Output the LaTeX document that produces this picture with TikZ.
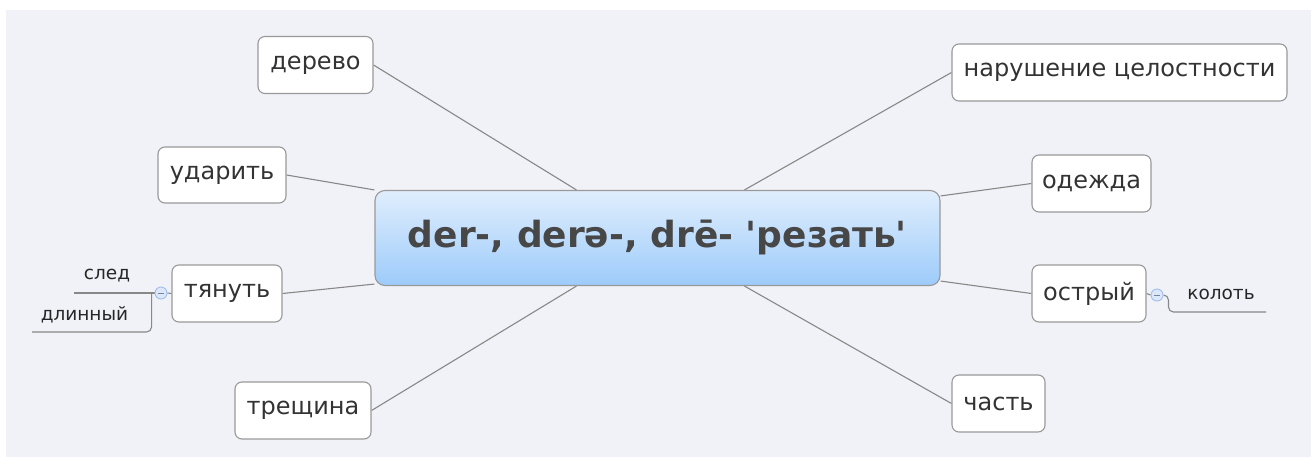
\documentclass[tikz,border=0pt]{standalone}
\usepackage{fontspec}
\setmainfont{DejaVu Sans}
\usetikzlibrary{calc}
\pgfdeclarelayer{paper}
\pgfdeclarelayer{links}
\pgfsetlayers{paper,links,main}
\definecolor{canvas}{HTML}{F1F2F7}
\definecolor{boxline}{HTML}{999999}
\definecolor{linkline}{HTML}{888888}
\definecolor{rootTop}{HTML}{E0EEFD}
\definecolor{rootBot}{HTML}{9DCBFA}
\definecolor{txt}{HTML}{333333}
\definecolor{roottxt}{HTML}{474747}
\definecolor{knobFill}{HTML}{DCE8FA}
\definecolor{knobLine}{HTML}{A3BEEA}
\begin{document}
\begin{tikzpicture}[x=1pt,y=-1pt,
  topic/.style={draw=boxline, line width=1.1pt, fill=white, rounded corners=7pt,
    inner sep=0pt, minimum height=57pt, text=txt, font=\fontsize{24}{28}\selectfont},
  rootbox/.style={draw=boxline, line width=1.1pt, top color=rootTop, bottom color=rootBot,
    rounded corners=10pt, inner sep=0pt, text=roottxt, font=\bfseries\fontsize{36}{40}\selectfont},
  link/.style={draw=linkline, line width=1.1pt},
  knob/.style={circle, draw=knobLine, fill=knobFill, line width=0.9pt, minimum size=12pt, inner sep=0pt,
    path picture={\draw[knobLine!70!black, line width=0.8pt]
      ([xshift=-3pt]path picture bounding box.center) -- ([xshift=3pt]path picture bounding box.center);}},
  subtext/.style={inner sep=0pt, text=black!85, font=\fontsize{18.5}{21}\selectfont, anchor=base}
]
% canvas
\useasboundingbox (0,0) rectangle (1311,457);
\begin{pgfonlayer}{paper}
\fill[white] (0,0) rectangle (1311,457);
\fill[canvas] (6,10) rectangle (1311,457);
\end{pgfonlayer}

% central topic
\node[rootbox, minimum width=565pt, minimum height=95pt] (root) at (657.5,238)
  {der-, derə-, drē- \textquotesingle резать\textquotesingle};

% main topics
\node[topic, minimum width=115pt] (derevo) at (315.5,65) {дерево};
\node[topic, minimum width=128pt, minimum height=56pt] (udarit) at (222,175) {ударить};
\node[topic, minimum width=110pt] (tyanut) at (227,293.5) {тянуть};
\node[topic, minimum width=136pt] (treshchina) at (303,410.5) {трещина};
\node[topic, minimum width=335pt] (narushenie) at (1119.5,72.5) {нарушение целостности};
\node[topic, minimum width=119pt] (odezhda) at (1091.5,183.5) {одежда};
\node[topic, minimum width=114pt] (ostryi) at (1089,293.5) {острый};
\node[topic, minimum width=93pt] (chast) at (998.5,403.5) {часть};

% collapse knobs and sub-topic labels
\node[knob] (tk) at (161,293) {};
\node[knob] (ok) at (1157,295) {};
\node[subtext] (sled) at (107,279) {след};
\node[subtext] (dlinnyi) at (84.5,320) {длинный};
\node[subtext] (kolot) at (1221,299) {колоть};
\coordinate (sledEnd) at (74,293);
\coordinate (dlinEnd) at (32,332);
\coordinate (kolEnd) at (1266,312);

\begin{pgfonlayer}{links}
% connectors to the central topic
\draw[link] (derevo.east) -- ($(root.north west)+(202,0)$);
\draw[link] (udarit.east) -- (root.north west);
\draw[link] (tyanut.east) -- ($(root.south west)+(0,-2)$);
\draw[link] (treshchina.east) -- ($(root.south west)+(202,0)$);
\draw[link] (narushenie.west) -- ($(root.north west)+(370,0)$);
\draw[link] (odezhda.west) -- ($(root.north east)+(0,6)$);
\draw[link] (ostryi.west) -- ($(root.south east)+(0,-5)$);
\draw[link] (chast.west) -- ($(root.south west)+(370,0)$);

% sub-topics of "тянуть"
\draw[link] (tyanut.west) -- (tk.east);
\draw[link] (tk.west) -- (sledEnd);
\draw[link, rounded corners=5pt] ($(tk.west)+(-3,0)$) |- (dlinEnd);

% sub-topic of "острый"
\draw[link] (ostryi.east) -- (ok.west);
\draw[link, rounded corners=5pt] (ok.east) -- ++(5,0) |- (kolEnd);
\end{pgfonlayer}
\end{tikzpicture}
\end{document}
